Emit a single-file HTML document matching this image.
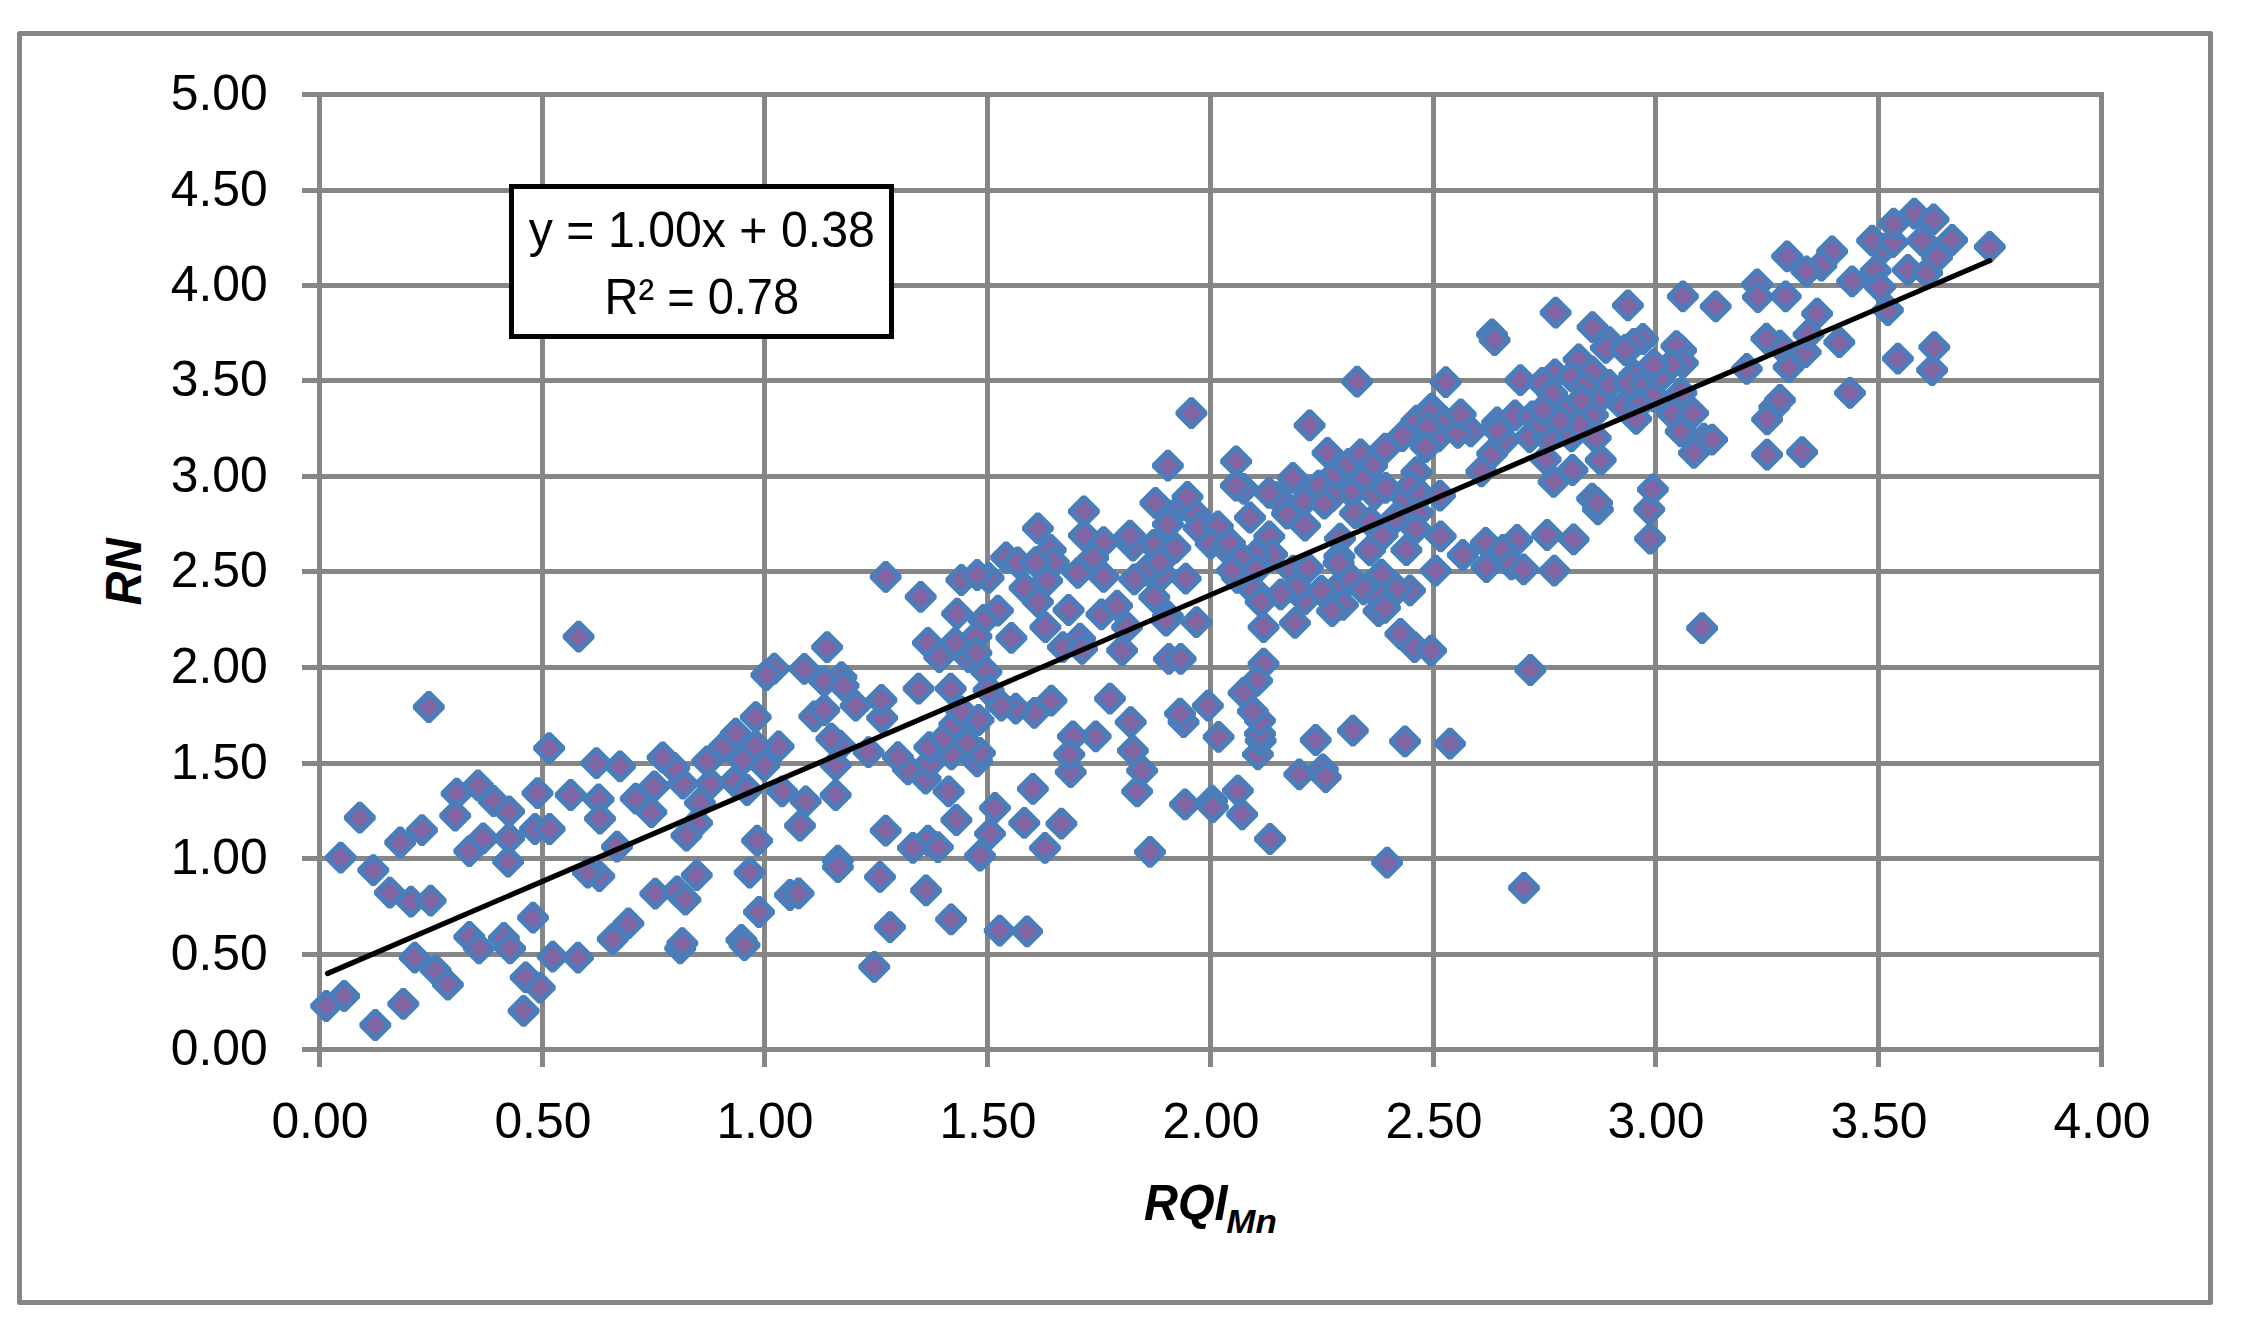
<!DOCTYPE html>
<html><head><meta charset="utf-8"><title>RN vs RQI Mn</title>
<style>html,body{margin:0;padding:0;background:#fff}body{width:2242px;height:1330px;overflow:hidden}svg{display:block}text{font-family:"Liberation Sans",sans-serif;fill:#000}</style></head><body>
<svg width="2242" height="1330" viewBox="0 0 2242 1330">
<rect x="0" y="0" width="2242" height="1330" fill="#fff"/>
<rect x="19.5" y="33.5" width="2191" height="1269" fill="none" stroke="#868686" stroke-width="5" stroke-linejoin="round"/>
<g fill="#868686" shape-rendering="crispEdges">
<rect x="302" y="92" width="1802" height="5"/>
<rect x="302" y="188" width="1802" height="5"/>
<rect x="302" y="283" width="1802" height="5"/>
<rect x="302" y="378" width="1802" height="5"/>
<rect x="302" y="474" width="1802" height="5"/>
<rect x="302" y="569" width="1802" height="5"/>
<rect x="302" y="665" width="1802" height="5"/>
<rect x="302" y="761" width="1802" height="5"/>
<rect x="302" y="856" width="1802" height="5"/>
<rect x="302" y="952" width="1802" height="5"/>
<rect x="302" y="1047" width="1802" height="5"/>
<rect x="317" y="92" width="5" height="975"/>
<rect x="540" y="92" width="5" height="975"/>
<rect x="762" y="92" width="5" height="975"/>
<rect x="985" y="92" width="5" height="975"/>
<rect x="1208" y="92" width="5" height="975"/>
<rect x="1431" y="92" width="5" height="975"/>
<rect x="1653" y="92" width="5" height="975"/>
<rect x="1876" y="92" width="5" height="975"/>
<rect x="2099" y="92" width="5" height="975"/>
</g>
<defs><path id="d" d="M0,-14.0 L14.0,0 L0,14.0 L-14.0,0 Z"/></defs>
<g fill="#8165A3" stroke="#4A7EBB" stroke-width="5.4" stroke-linejoin="bevel">
<use href="#d" x="503.9" y="937.9"/>
<use href="#d" x="612.8" y="939.0"/>
<use href="#d" x="469.3" y="936.9"/>
<use href="#d" x="479.0" y="948.3"/>
<use href="#d" x="510.1" y="948.3"/>
<use href="#d" x="628.4" y="923.4"/>
<use href="#d" x="552.7" y="956.6"/>
<use href="#d" x="428.8" y="707.0"/>
<use href="#d" x="578.0" y="957.6"/>
<use href="#d" x="533.0" y="917.6"/>
<use href="#d" x="1989.8" y="246.8"/>
<use href="#d" x="435.5" y="970.1"/>
<use href="#d" x="414.7" y="957.6"/>
<use href="#d" x="411.0" y="901.6"/>
<use href="#d" x="430.7" y="900.6"/>
<use href="#d" x="525.7" y="977.3"/>
<use href="#d" x="680.2" y="948.3"/>
<use href="#d" x="655.3" y="893.7"/>
<use href="#d" x="710.7" y="783.6"/>
<use href="#d" x="682.9" y="783.6"/>
<use href="#d" x="654.3" y="786.4"/>
<use href="#d" x="957.1" y="613.6"/>
<use href="#d" x="1787.1" y="256.4"/>
<use href="#d" x="682.3" y="943.1"/>
<use href="#d" x="734.3" y="781.4"/>
<use href="#d" x="1832.1" y="251.4"/>
<use href="#d" x="677.1" y="891.3"/>
<use href="#d" x="447.9" y="984.6"/>
<use href="#d" x="747.1" y="790.0"/>
<use href="#d" x="1530.3" y="670.0"/>
<use href="#d" x="1237.9" y="790.7"/>
<use href="#d" x="685.4" y="899.6"/>
<use href="#d" x="925.7" y="778.6"/>
<use href="#d" x="948.6" y="791.4"/>
<use href="#d" x="539.8" y="987.7"/>
<use href="#d" x="1137.1" y="791.4"/>
<use href="#d" x="1882.9" y="248.6"/>
<use href="#d" x="578.6" y="636.7"/>
<use href="#d" x="835.7" y="795.0"/>
<use href="#d" x="1821.4" y="265.7"/>
<use href="#d" x="874.3" y="966.9"/>
<use href="#d" x="1555.7" y="312.6"/>
<use href="#d" x="635.7" y="798.6"/>
<use href="#d" x="1142.1" y="770.7"/>
<use href="#d" x="1872.1" y="240.7"/>
<use href="#d" x="389.9" y="892.7"/>
<use href="#d" x="907.9" y="769.3"/>
<use href="#d" x="1212.1" y="800.7"/>
<use href="#d" x="1875.7" y="270.7"/>
<use href="#d" x="1806.4" y="271.4"/>
<use href="#d" x="674.3" y="767.9"/>
<use href="#d" x="549.1" y="748.1"/>
<use href="#d" x="700.0" y="802.9"/>
<use href="#d" x="1774.3" y="407.1"/>
<use href="#d" x="1892.9" y="242.1"/>
<use href="#d" x="920.7" y="596.9"/>
<use href="#d" x="620.0" y="766.4"/>
<use href="#d" x="599.3" y="876.1"/>
<use href="#d" x="764.3" y="765.7"/>
<use href="#d" x="1185.0" y="804.3"/>
<use href="#d" x="696.8" y="875.1"/>
<use href="#d" x="835.7" y="765.0"/>
<use href="#d" x="930.0" y="762.9"/>
<use href="#d" x="1212.9" y="807.1"/>
<use href="#d" x="587.9" y="872.6"/>
<use href="#d" x="995.0" y="807.9"/>
<use href="#d" x="1597.9" y="509.3"/>
<use href="#d" x="403.3" y="1003.9"/>
<use href="#d" x="707.1" y="761.4"/>
<use href="#d" x="977.1" y="761.4"/>
<use href="#d" x="1299.3" y="774.3"/>
<use href="#d" x="999.7" y="930.7"/>
<use href="#d" x="742.9" y="760.0"/>
<use href="#d" x="1780.0" y="400.0"/>
<use href="#d" x="598.6" y="799.3"/>
<use href="#d" x="1852.1" y="281.4"/>
<use href="#d" x="662.6" y="757.4"/>
<use href="#d" x="651.4" y="812.1"/>
<use href="#d" x="782.1" y="791.4"/>
<use href="#d" x="1802.1" y="452.1"/>
<use href="#d" x="890.0" y="927.1"/>
<use href="#d" x="897.9" y="757.1"/>
<use href="#d" x="927.9" y="642.9"/>
<use href="#d" x="955.0" y="642.9"/>
<use href="#d" x="596.4" y="763.1"/>
<use href="#d" x="1242.1" y="814.3"/>
<use href="#d" x="1757.1" y="284.3"/>
<use href="#d" x="523.6" y="1010.9"/>
<use href="#d" x="951.4" y="754.3"/>
<use href="#d" x="1257.9" y="754.3"/>
<use href="#d" x="1893.6" y="223.6"/>
<use href="#d" x="373.3" y="870.1"/>
<use href="#d" x="980.0" y="752.9"/>
<use href="#d" x="827.1" y="647.1"/>
<use href="#d" x="1850.0" y="392.9"/>
<use href="#d" x="1880.0" y="287.1"/>
<use href="#d" x="868.6" y="752.1"/>
<use href="#d" x="1907.9" y="270.0"/>
<use href="#d" x="508.1" y="861.6"/>
<use href="#d" x="600.0" y="818.6"/>
<use href="#d" x="1132.9" y="750.7"/>
<use href="#d" x="956.4" y="820.0"/>
<use href="#d" x="961.4" y="580.0"/>
<use href="#d" x="951.1" y="919.3"/>
<use href="#d" x="697.1" y="822.9"/>
<use href="#d" x="929.3" y="747.1"/>
<use href="#d" x="885.7" y="576.9"/>
<use href="#d" x="724.3" y="746.4"/>
<use href="#d" x="778.6" y="746.4"/>
<use href="#d" x="755.7" y="745.7"/>
<use href="#d" x="805.7" y="801.4"/>
<use href="#d" x="840.0" y="745.7"/>
<use href="#d" x="1547.1" y="535.0"/>
<use href="#d" x="1914.3" y="213.6"/>
<use href="#d" x="1785.7" y="296.4"/>
<use href="#d" x="967.1" y="742.9"/>
<use href="#d" x="939.3" y="657.1"/>
<use href="#d" x="968.6" y="657.1"/>
<use href="#d" x="1757.9" y="297.1"/>
<use href="#d" x="1702.1" y="628.1"/>
<use href="#d" x="469.3" y="851.2"/>
<use href="#d" x="375.3" y="1025.0"/>
<use href="#d" x="1260.7" y="740.7"/>
<use href="#d" x="1573.6" y="539.3"/>
<use href="#d" x="800.0" y="825.7"/>
<use href="#d" x="1315.7" y="740.0"/>
<use href="#d" x="1517.1" y="540.0"/>
<use href="#d" x="885.7" y="830.7"/>
<use href="#d" x="831.4" y="738.6"/>
<use href="#d" x="944.3" y="738.6"/>
<use href="#d" x="1922.1" y="240.7"/>
<use href="#d" x="1322.9" y="769.3"/>
<use href="#d" x="1485.7" y="542.9"/>
<use href="#d" x="1218.6" y="736.9"/>
<use href="#d" x="617.0" y="846.7"/>
<use href="#d" x="990.0" y="833.6"/>
<use href="#d" x="1024.3" y="822.9"/>
<use href="#d" x="1095.7" y="736.4"/>
<use href="#d" x="686.4" y="835.7"/>
<use href="#d" x="1325.7" y="777.1"/>
<use href="#d" x="735.7" y="733.6"/>
<use href="#d" x="1260.0" y="733.6"/>
<use href="#d" x="1715.7" y="306.4"/>
<use href="#d" x="1027.1" y="931.4"/>
<use href="#d" x="1927.1" y="272.9"/>
<use href="#d" x="400.2" y="842.5"/>
<use href="#d" x="1524.0" y="887.9"/>
<use href="#d" x="1627.9" y="305.4"/>
<use href="#d" x="804.3" y="668.9"/>
<use href="#d" x="1270.0" y="839.0"/>
<use href="#d" x="570.7" y="795.0"/>
<use href="#d" x="478.0" y="785.4"/>
<use href="#d" x="1502.9" y="550.0"/>
<use href="#d" x="1887.9" y="310.0"/>
<use href="#d" x="757.1" y="840.7"/>
<use href="#d" x="927.9" y="840.7"/>
<use href="#d" x="483.2" y="838.4"/>
<use href="#d" x="509.1" y="838.4"/>
<use href="#d" x="1445.7" y="382.1"/>
<use href="#d" x="1932.1" y="370.0"/>
<use href="#d" x="1032.9" y="788.9"/>
<use href="#d" x="1387.1" y="862.6"/>
<use href="#d" x="1788.6" y="367.1"/>
<use href="#d" x="1933.6" y="219.3"/>
<use href="#d" x="1817.1" y="313.6"/>
<use href="#d" x="790.0" y="895.0"/>
<use href="#d" x="1462.9" y="555.0"/>
<use href="#d" x="954.3" y="724.3"/>
<use href="#d" x="344.2" y="996.0"/>
<use href="#d" x="798.6" y="893.3"/>
<use href="#d" x="741.4" y="940.0"/>
<use href="#d" x="937.9" y="847.1"/>
<use href="#d" x="841.4" y="677.1"/>
<use href="#d" x="1937.1" y="257.1"/>
<use href="#d" x="1682.9" y="296.4"/>
<use href="#d" x="537.5" y="793.1"/>
<use href="#d" x="456.6" y="793.7"/>
<use href="#d" x="912.9" y="847.9"/>
<use href="#d" x="1130.7" y="722.1"/>
<use href="#d" x="1183.6" y="722.1"/>
<use href="#d" x="1260.0" y="720.7"/>
<use href="#d" x="340.7" y="857.7"/>
<use href="#d" x="926.0" y="890.4"/>
<use href="#d" x="422.0" y="830.1"/>
<use href="#d" x="744.5" y="945.2"/>
<use href="#d" x="978.6" y="720.0"/>
<use href="#d" x="535.0" y="829.0"/>
<use href="#d" x="549.6" y="829.0"/>
<use href="#d" x="824.3" y="681.4"/>
<use href="#d" x="1897.9" y="358.6"/>
<use href="#d" x="1150.0" y="851.9"/>
<use href="#d" x="882.1" y="717.9"/>
<use href="#d" x="755.7" y="717.1"/>
<use href="#d" x="814.3" y="716.4"/>
<use href="#d" x="1511.4" y="564.3"/>
<use href="#d" x="1045.0" y="847.9"/>
<use href="#d" x="749.7" y="872.6"/>
<use href="#d" x="493.6" y="801.0"/>
<use href="#d" x="980.0" y="855.7"/>
<use href="#d" x="774.3" y="668.6"/>
<use href="#d" x="843.6" y="685.7"/>
<use href="#d" x="1180.0" y="713.6"/>
<use href="#d" x="1034.3" y="712.9"/>
<use href="#d" x="1072.9" y="736.4"/>
<use href="#d" x="1486.4" y="567.1"/>
<use href="#d" x="1805.7" y="352.1"/>
<use href="#d" x="961.4" y="711.4"/>
<use href="#d" x="918.6" y="688.6"/>
<use href="#d" x="950.7" y="688.6"/>
<use href="#d" x="1252.9" y="711.4"/>
<use href="#d" x="1070.7" y="772.1"/>
<use href="#d" x="1523.6" y="569.3"/>
<use href="#d" x="1649.3" y="509.3"/>
<use href="#d" x="824.3" y="710.0"/>
<use href="#d" x="1650.0" y="538.6"/>
<use href="#d" x="837.9" y="860.7"/>
<use href="#d" x="1069.3" y="754.3"/>
<use href="#d" x="1554.3" y="570.7"/>
<use href="#d" x="1015.7" y="708.6"/>
<use href="#d" x="1405.0" y="741.4"/>
<use href="#d" x="1952.1" y="240.0"/>
<use href="#d" x="359.8" y="817.6"/>
<use href="#d" x="1352.9" y="730.7"/>
<use href="#d" x="1934.3" y="347.1"/>
<use href="#d" x="880.0" y="876.9"/>
<use href="#d" x="766.4" y="675.0"/>
<use href="#d" x="1450.0" y="743.6"/>
<use href="#d" x="326.2" y="1006.0"/>
<use href="#d" x="855.7" y="705.7"/>
<use href="#d" x="1001.4" y="705.7"/>
<use href="#d" x="1207.9" y="705.7"/>
<use href="#d" x="1780.0" y="345.7"/>
<use href="#d" x="1808.6" y="334.3"/>
<use href="#d" x="455.2" y="815.6"/>
<use href="#d" x="759.0" y="912.0"/>
<use href="#d" x="509.1" y="811.3"/>
<use href="#d" x="837.9" y="867.1"/>
<use href="#d" x="1357.1" y="381.7"/>
<use href="#d" x="1839.3" y="342.1"/>
<use href="#d" x="1061.4" y="823.6"/>
<use href="#d" x="1110.0" y="698.6"/>
<use href="#d" x="1051.4" y="700.7"/>
<use href="#d" x="881.4" y="700.0"/>
<use href="#d" x="1431.4" y="408.6"/>
<use href="#d" x="1309.6" y="425.4"/>
<use href="#d" x="1327.5" y="452.9"/>
<use href="#d" x="1348.6" y="463.9"/>
<use href="#d" x="1360.7" y="454.3"/>
<use href="#d" x="1372.1" y="465.7"/>
<use href="#d" x="1385.0" y="448.6"/>
<use href="#d" x="1402.5" y="436.1"/>
<use href="#d" x="1416.4" y="420.7"/>
<use href="#d" x="1430.0" y="412.1"/>
<use href="#d" x="1445.0" y="422.1"/>
<use href="#d" x="1438.6" y="436.4"/>
<use href="#d" x="1427.9" y="427.1"/>
<use href="#d" x="1425.7" y="447.1"/>
<use href="#d" x="1416.4" y="472.1"/>
<use href="#d" x="1332.1" y="477.5"/>
<use href="#d" x="1362.9" y="480.4"/>
<use href="#d" x="1292.9" y="477.9"/>
<use href="#d" x="1318.6" y="485.7"/>
<use href="#d" x="1351.4" y="492.9"/>
<use href="#d" x="1374.6" y="494.3"/>
<use href="#d" x="1332.1" y="496.4"/>
<use href="#d" x="1303.9" y="501.4"/>
<use href="#d" x="1405.7" y="497.9"/>
<use href="#d" x="1385.7" y="487.9"/>
<use href="#d" x="1411.4" y="485.7"/>
<use href="#d" x="1420.7" y="495.0"/>
<use href="#d" x="1440.0" y="495.7"/>
<use href="#d" x="1324.3" y="503.6"/>
<use href="#d" x="1492.1" y="453.6"/>
<use href="#d" x="1481.4" y="471.4"/>
<use href="#d" x="1553.6" y="481.8"/>
<use href="#d" x="1572.5" y="470.0"/>
<use href="#d" x="1600.7" y="460.0"/>
<use href="#d" x="1545.7" y="459.3"/>
<use href="#d" x="1592.1" y="498.6"/>
<use href="#d" x="1597.1" y="502.9"/>
<use href="#d" x="1497.1" y="422.5"/>
<use href="#d" x="1515.0" y="415.4"/>
<use href="#d" x="1529.6" y="437.1"/>
<use href="#d" x="1547.9" y="437.9"/>
<use href="#d" x="1470.7" y="431.4"/>
<use href="#d" x="1457.9" y="432.9"/>
<use href="#d" x="1504.3" y="440.0"/>
<use href="#d" x="1497.5" y="430.4"/>
<use href="#d" x="1571.4" y="436.4"/>
<use href="#d" x="1595.7" y="437.9"/>
<use href="#d" x="1532.1" y="416.4"/>
<use href="#d" x="1541.4" y="424.3"/>
<use href="#d" x="1565.0" y="410.0"/>
<use href="#d" x="1592.9" y="415.0"/>
<use href="#d" x="1578.6" y="424.3"/>
<use href="#d" x="1560.0" y="420.7"/>
<use href="#d" x="1460.7" y="414.3"/>
<use href="#d" x="1492.0" y="334.4"/>
<use href="#d" x="1494.6" y="340.0"/>
<use href="#d" x="1592.5" y="327.1"/>
<use href="#d" x="1609.3" y="342.1"/>
<use href="#d" x="1605.8" y="347.9"/>
<use href="#d" x="1578.6" y="359.3"/>
<use href="#d" x="1520.4" y="380.1"/>
<use href="#d" x="1555.0" y="374.3"/>
<use href="#d" x="1571.4" y="376.4"/>
<use href="#d" x="1592.1" y="371.4"/>
<use href="#d" x="1542.1" y="382.9"/>
<use href="#d" x="1552.1" y="393.6"/>
<use href="#d" x="1583.6" y="387.1"/>
<use href="#d" x="1600.7" y="397.1"/>
<use href="#d" x="1581.4" y="400.0"/>
<use href="#d" x="1609.3" y="385.0"/>
<use href="#d" x="1766.4" y="338.6"/>
<use href="#d" x="1746.8" y="368.9"/>
<use href="#d" x="1681.1" y="350.4"/>
<use href="#d" x="1676.4" y="346.1"/>
<use href="#d" x="1682.9" y="362.9"/>
<use href="#d" x="1671.4" y="364.3"/>
<use href="#d" x="1642.9" y="339.0"/>
<use href="#d" x="1633.6" y="343.8"/>
<use href="#d" x="1625.0" y="350.0"/>
<use href="#d" x="1634.3" y="375.0"/>
<use href="#d" x="1628.6" y="382.9"/>
<use href="#d" x="1645.7" y="383.6"/>
<use href="#d" x="1659.3" y="378.6"/>
<use href="#d" x="1653.6" y="364.3"/>
<use href="#d" x="1653.6" y="396.4"/>
<use href="#d" x="1681.4" y="392.9"/>
<use href="#d" x="1623.6" y="406.4"/>
<use href="#d" x="1638.6" y="405.0"/>
<use href="#d" x="1669.3" y="405.7"/>
<use href="#d" x="1305.0" y="525.7"/>
<use href="#d" x="1355.0" y="513.2"/>
<use href="#d" x="1370.7" y="522.1"/>
<use href="#d" x="1395.7" y="517.9"/>
<use href="#d" x="1417.9" y="512.9"/>
<use href="#d" x="1340.0" y="538.6"/>
<use href="#d" x="1382.5" y="535.0"/>
<use href="#d" x="1370.0" y="550.4"/>
<use href="#d" x="1406.4" y="550.0"/>
<use href="#d" x="1415.7" y="528.6"/>
<use href="#d" x="1440.7" y="536.4"/>
<use href="#d" x="1435.7" y="570.7"/>
<use href="#d" x="1339.3" y="556.4"/>
<use href="#d" x="1338.6" y="562.9"/>
<use href="#d" x="1292.9" y="570.7"/>
<use href="#d" x="1307.9" y="567.9"/>
<use href="#d" x="1381.4" y="574.6"/>
<use href="#d" x="1335.0" y="590.4"/>
<use href="#d" x="1351.4" y="579.3"/>
<use href="#d" x="1363.6" y="589.3"/>
<use href="#d" x="1410.0" y="590.4"/>
<use href="#d" x="1397.1" y="589.3"/>
<use href="#d" x="1380.4" y="597.9"/>
<use href="#d" x="1305.0" y="599.3"/>
<use href="#d" x="1321.4" y="590.7"/>
<use href="#d" x="1296.4" y="587.1"/>
<use href="#d" x="1250.0" y="517.5"/>
<use href="#d" x="1287.1" y="513.6"/>
<use href="#d" x="1168.9" y="515.7"/>
<use href="#d" x="1184.3" y="505.0"/>
<use href="#d" x="1195.0" y="513.6"/>
<use href="#d" x="1198.6" y="527.9"/>
<use href="#d" x="1217.9" y="526.4"/>
<use href="#d" x="1210.7" y="543.6"/>
<use href="#d" x="1225.4" y="547.9"/>
<use href="#d" x="1230.0" y="543.2"/>
<use href="#d" x="1269.3" y="536.4"/>
<use href="#d" x="1272.1" y="554.3"/>
<use href="#d" x="1255.7" y="555.0"/>
<use href="#d" x="1241.4" y="557.9"/>
<use href="#d" x="1256.4" y="569.3"/>
<use href="#d" x="1237.1" y="577.9"/>
<use href="#d" x="1232.1" y="570.7"/>
<use href="#d" x="1153.6" y="545.0"/>
<use href="#d" x="1175.4" y="547.9"/>
<use href="#d" x="1132.9" y="545.7"/>
<use href="#d" x="1167.9" y="524.3"/>
<use href="#d" x="1162.5" y="574.3"/>
<use href="#d" x="1185.7" y="578.6"/>
<use href="#d" x="1146.4" y="570.7"/>
<use href="#d" x="1160.0" y="562.1"/>
<use href="#d" x="1134.3" y="579.3"/>
<use href="#d" x="1154.3" y="597.1"/>
<use href="#d" x="1280.7" y="594.3"/>
<use href="#d" x="1253.6" y="590.0"/>
<use href="#d" x="1191.4" y="413.2"/>
<use href="#d" x="1167.9" y="465.7"/>
<use href="#d" x="1236.1" y="461.4"/>
<use href="#d" x="1243.6" y="488.9"/>
<use href="#d" x="1235.8" y="485.7"/>
<use href="#d" x="1277.1" y="497.1"/>
<use href="#d" x="1268.9" y="492.9"/>
<use href="#d" x="1187.5" y="496.8"/>
<use href="#d" x="1155.4" y="502.9"/>
<use href="#d" x="1196.4" y="622.1"/>
<use href="#d" x="1167.9" y="616.1"/>
<use href="#d" x="1166.1" y="620.7"/>
<use href="#d" x="1263.6" y="627.1"/>
<use href="#d" x="1260.7" y="601.8"/>
<use href="#d" x="1168.9" y="658.9"/>
<use href="#d" x="1180.7" y="658.9"/>
<use href="#d" x="1263.6" y="663.6"/>
<use href="#d" x="1257.1" y="680.7"/>
<use href="#d" x="1243.6" y="692.9"/>
<use href="#d" x="1400.4" y="633.9"/>
<use href="#d" x="1414.6" y="647.1"/>
<use href="#d" x="1431.1" y="650.7"/>
<use href="#d" x="1295.0" y="622.9"/>
<use href="#d" x="1342.9" y="604.9"/>
<use href="#d" x="1332.1" y="611.0"/>
<use href="#d" x="1378.6" y="611.0"/>
<use href="#d" x="1385.0" y="607.9"/>
<use href="#d" x="1083.9" y="511.4"/>
<use href="#d" x="1037.9" y="528.4"/>
<use href="#d" x="1083.9" y="535.4"/>
<use href="#d" x="1103.6" y="542.1"/>
<use href="#d" x="1050.7" y="550.0"/>
<use href="#d" x="1053.9" y="562.5"/>
<use href="#d" x="1006.1" y="557.5"/>
<use href="#d" x="1017.7" y="562.5"/>
<use href="#d" x="1035.7" y="562.1"/>
<use href="#d" x="1093.2" y="557.9"/>
<use href="#d" x="1077.9" y="572.9"/>
<use href="#d" x="1103.6" y="576.8"/>
<use href="#d" x="1047.1" y="580.7"/>
<use href="#d" x="1024.6" y="587.9"/>
<use href="#d" x="988.6" y="577.9"/>
<use href="#d" x="977.1" y="575.0"/>
<use href="#d" x="997.9" y="610.7"/>
<use href="#d" x="1037.9" y="601.8"/>
<use href="#d" x="1068.6" y="610.0"/>
<use href="#d" x="1101.4" y="614.3"/>
<use href="#d" x="1117.1" y="605.7"/>
<use href="#d" x="1127.1" y="627.1"/>
<use href="#d" x="1045.4" y="627.1"/>
<use href="#d" x="1011.4" y="637.9"/>
<use href="#d" x="1080.0" y="638.6"/>
<use href="#d" x="1062.9" y="647.1"/>
<use href="#d" x="1082.1" y="648.9"/>
<use href="#d" x="1122.1" y="650.4"/>
<use href="#d" x="983.6" y="620.0"/>
<use href="#d" x="976.4" y="636.4"/>
<use href="#d" x="976.4" y="652.9"/>
<use href="#d" x="986.4" y="672.1"/>
<use href="#d" x="988.6" y="690.0"/>
<use href="#d" x="1636.1" y="418.9"/>
<use href="#d" x="1672.1" y="413.6"/>
<use href="#d" x="1693.2" y="413.2"/>
<use href="#d" x="1680.7" y="431.4"/>
<use href="#d" x="1703.9" y="438.6"/>
<use href="#d" x="1712.1" y="439.6"/>
<use href="#d" x="1693.9" y="452.9"/>
<use href="#d" x="1767.1" y="419.3"/>
<use href="#d" x="1767.1" y="454.6"/>
<use href="#d" x="1652.9" y="489.3"/>
<use href="#d" x="1542.9" y="410.0"/>
<use href="#d" x="1130.0" y="535.7"/>
</g>
<line x1="327.5" y1="973.5" x2="1989.8" y2="260.7" stroke="#000" stroke-width="5.2" stroke-linecap="round"/>
<rect x="511.5" y="186.5" width="380" height="150" fill="#fff" stroke="#000" stroke-width="5"/>
<text x="528.8" y="247" font-size="49.5" textLength="346" lengthAdjust="spacingAndGlyphs">y = 1.00x + 0.38</text>
<text x="604.5" y="314.3" font-size="49.5" textLength="194.6" lengthAdjust="spacingAndGlyphs">R² = 0.78</text>
<text x="267.8" y="1065.0" font-size="49.8" text-anchor="end" textLength="97.0" lengthAdjust="spacingAndGlyphs">0.00</text>
<text x="267.8" y="970.0" font-size="49.8" text-anchor="end" textLength="97.0" lengthAdjust="spacingAndGlyphs">0.50</text>
<text x="267.8" y="874.0" font-size="49.8" text-anchor="end" textLength="97.0" lengthAdjust="spacingAndGlyphs">1.00</text>
<text x="267.8" y="779.0" font-size="49.8" text-anchor="end" textLength="97.0" lengthAdjust="spacingAndGlyphs">1.50</text>
<text x="267.8" y="683.0" font-size="49.8" text-anchor="end" textLength="97.0" lengthAdjust="spacingAndGlyphs">2.00</text>
<text x="267.8" y="587.0" font-size="49.8" text-anchor="end" textLength="97.0" lengthAdjust="spacingAndGlyphs">2.50</text>
<text x="267.8" y="492.0" font-size="49.8" text-anchor="end" textLength="97.0" lengthAdjust="spacingAndGlyphs">3.00</text>
<text x="267.8" y="396.0" font-size="49.8" text-anchor="end" textLength="97.0" lengthAdjust="spacingAndGlyphs">3.50</text>
<text x="267.8" y="301.0" font-size="49.8" text-anchor="end" textLength="97.0" lengthAdjust="spacingAndGlyphs">4.00</text>
<text x="267.8" y="206.0" font-size="49.8" text-anchor="end" textLength="97.0" lengthAdjust="spacingAndGlyphs">4.50</text>
<text x="267.8" y="110.0" font-size="49.8" text-anchor="end" textLength="97.0" lengthAdjust="spacingAndGlyphs">5.00</text>
<text x="319.9" y="1137.5" font-size="49.8" text-anchor="middle" textLength="97.0" lengthAdjust="spacingAndGlyphs">0.00</text>
<text x="542.9" y="1137.5" font-size="49.8" text-anchor="middle" textLength="97.0" lengthAdjust="spacingAndGlyphs">0.50</text>
<text x="764.9" y="1137.5" font-size="49.8" text-anchor="middle" textLength="97.0" lengthAdjust="spacingAndGlyphs">1.00</text>
<text x="987.9" y="1137.5" font-size="49.8" text-anchor="middle" textLength="97.0" lengthAdjust="spacingAndGlyphs">1.50</text>
<text x="1210.9" y="1137.5" font-size="49.8" text-anchor="middle" textLength="97.0" lengthAdjust="spacingAndGlyphs">2.00</text>
<text x="1433.9" y="1137.5" font-size="49.8" text-anchor="middle" textLength="97.0" lengthAdjust="spacingAndGlyphs">2.50</text>
<text x="1655.9" y="1137.5" font-size="49.8" text-anchor="middle" textLength="97.0" lengthAdjust="spacingAndGlyphs">3.00</text>
<text x="1878.9" y="1137.5" font-size="49.8" text-anchor="middle" textLength="97.0" lengthAdjust="spacingAndGlyphs">3.50</text>
<text x="2101.9" y="1137.5" font-size="49.8" text-anchor="middle" textLength="97.0" lengthAdjust="spacingAndGlyphs">4.00</text>
<text x="1144" y="1219.8" font-size="49.3" font-weight="bold" font-style="italic" textLength="83.6" lengthAdjust="spacingAndGlyphs">RQI</text>
<text x="1226.3" y="1233" font-size="33.5" font-weight="bold" font-style="italic" textLength="50.5" lengthAdjust="spacingAndGlyphs">Mn</text>
<text transform="translate(141.1,605.2) rotate(-90)" font-size="49.3" font-weight="bold" font-style="italic" textLength="67" lengthAdjust="spacingAndGlyphs">RN</text>
</svg></body></html>
